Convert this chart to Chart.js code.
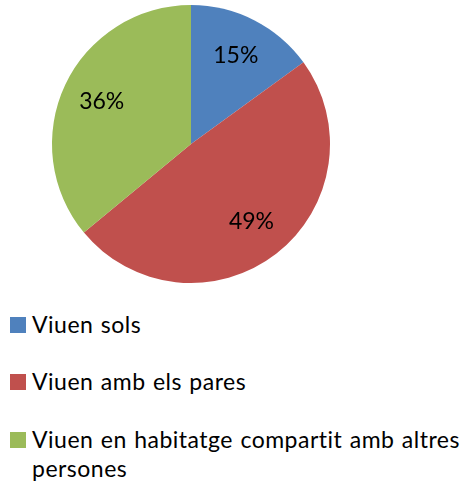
<!DOCTYPE html>
<html>
<head>
<meta charset="utf-8">
<script src="https://cdn.jsdelivr.net/npm/chart.js@4"></script>
<style>
  body { margin: 0; background: #fff; width: 473px; height: 490px; overflow: hidden; position: relative; }
  #wrap { position: absolute; left: 0; top: 0; width: 473px; height: 290px; }
  #legend { position: absolute; left: 0; top: 0; width: 473px; font-family: Lato, sans-serif; font-size: 23px; color: #000;
            letter-spacing: 0.5px; word-spacing: 1px; font-variant-ligatures: none; font-feature-settings: "liga" 0; }
  .item { position: absolute; left: 32px; width: 440px; line-height: 28.5px; }
  .box { position: absolute; left: -22px; top: 7px; width: 16px; height: 16px; }
</style>
</head>
<body>
<div id="wrap"><canvas id="pie" width="473" height="290"></canvas></div>
<div id="legend"></div>
<script>
var labels = ['Viuen sols', 'Viuen amb els pares', 'Viuen en habitatge compartit amb altres persones'];
var values = [15, 49, 36];
var colors = ['#4F81BD', '#C0504D', '#9BBB59'];

// percent labels inside slices
var sliceLabels = {
  id: 'sliceLabels',
  afterDatasetsDraw: function (chart) {
    var c = chart.ctx;
    var meta = chart.getDatasetMeta(0);
    var total = values.reduce(function (a, b) { return a + b; }, 0);
    c.save();
    c.font = '23px Lato, sans-serif';
    c.fillStyle = '#000';
    c.textAlign = 'center';
    c.textBaseline = 'middle';
    meta.data.forEach(function (arc, i) {
      var p = arc.getProps(['x', 'y', 'startAngle', 'endAngle', 'outerRadius'], true);
      var mid = (p.startAngle + p.endAngle) / 2;
      var r = p.outerRadius * 0.71;
      c.fillText(Math.round(values[i] / total * 100) + '%', p.x + Math.cos(mid) * r, p.y + Math.sin(mid) * r);
    });
    c.restore();
  }
};

new Chart(document.getElementById('pie'), {
  type: 'pie',
  data: {
    labels: labels,
    datasets: [{
      data: values,
      backgroundColor: colors,
      borderWidth: 0
    }]
  },
  options: {
    responsive: false,
    animation: false,
    layout: { padding: { left: 52, right: 143, top: 5, bottom: 7 } },
    plugins: {
      legend: { display: false },
      tooltip: { enabled: false }
    }
  },
  plugins: [sliceLabels]
});

// legend below the pie
var tops = [310, 367, 425];
var legend = document.getElementById('legend');
labels.forEach(function (l, i) {
  var d = document.createElement('div');
  d.className = 'item';
  d.style.top = tops[i] + 'px';
  d.innerHTML = '<span class="box" style="background:' + colors[i] + '"></span>' + l;
  legend.appendChild(d);
});
</script>
</body>
</html>
